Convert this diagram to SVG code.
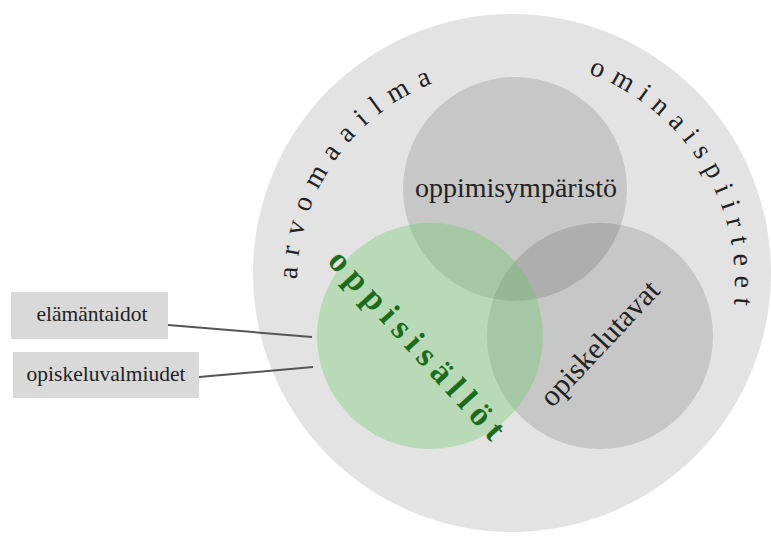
<svg xmlns="http://www.w3.org/2000/svg" width="771" height="540" viewBox="0 0 771 540">
  <style>
    .serif { font-family: "Liberation Serif", "Times New Roman", serif; }
    .dark { fill: #222222; }
    .gray { fill: #000000; fill-opacity: 0.12; }
    .box { fill: #d9d9d9; }
    .link { stroke: #555555; stroke-width: 2; fill: none; }
  </style>
  <defs>
    <path id="arcLeft" d="M 297.0 279.4 A 215 215 0 0 1 549.3 71.3"/>
    <path id="arcRight" d="M 588.3 73.5 A 223 223 0 0 1 705.1 394.5"/>
  </defs>
  <rect width="771" height="540" fill="#ffffff"/>

  <g id="outer">
    <circle cx="512" cy="273" r="259" fill="#e3e3e3"/>
    <text class="serif dark" font-size="28" letter-spacing="10.6"><textPath href="#arcLeft">arvomaailma</textPath></text>
    <text class="serif dark" font-size="28" letter-spacing="9"><textPath href="#arcRight">ominaispiirteet</textPath></text>
  </g>

  <g id="oppimisymparisto">
    <circle class="gray" cx="515" cy="189" r="112"/>
    <text class="serif dark" font-size="28" x="516" y="197" text-anchor="middle">oppimisympäristö</text>
  </g>

  <g id="opiskelutavat">
    <circle class="gray" cx="600" cy="336" r="113"/>
    <text class="serif dark" font-size="30" transform="translate(552.2,408.5) rotate(-46.9)">opiskelutavat</text>
  </g>

  <g id="oppisisallot">
    <circle cx="430" cy="336" r="113" fill="#68c960" fill-opacity="0.35"/>
    <text class="serif" font-size="34" font-weight="bold" fill="#1c6c1c" letter-spacing="7.25" transform="translate(326.5,262.0) rotate(47.6)">oppisisällöt</text>
  </g>

  <g id="connectors">
    <line class="link" x1="168" y1="325" x2="312" y2="337"/>
    <line class="link" x1="199" y1="377" x2="313" y2="367"/>
  </g>

  <g id="elamantaidot">
    <rect class="box" x="11" y="292" width="157" height="47"/>
    <text class="serif dark" font-size="21.5" x="92" y="321.3" text-anchor="middle">elämäntaidot</text>
  </g>

  <g id="opiskeluvalmiudet">
    <rect class="box" x="13" y="352" width="186" height="46"/>
    <text class="serif dark" font-size="21.5" x="106" y="381.3" text-anchor="middle">opiskeluvalmiudet</text>
  </g>
</svg>
